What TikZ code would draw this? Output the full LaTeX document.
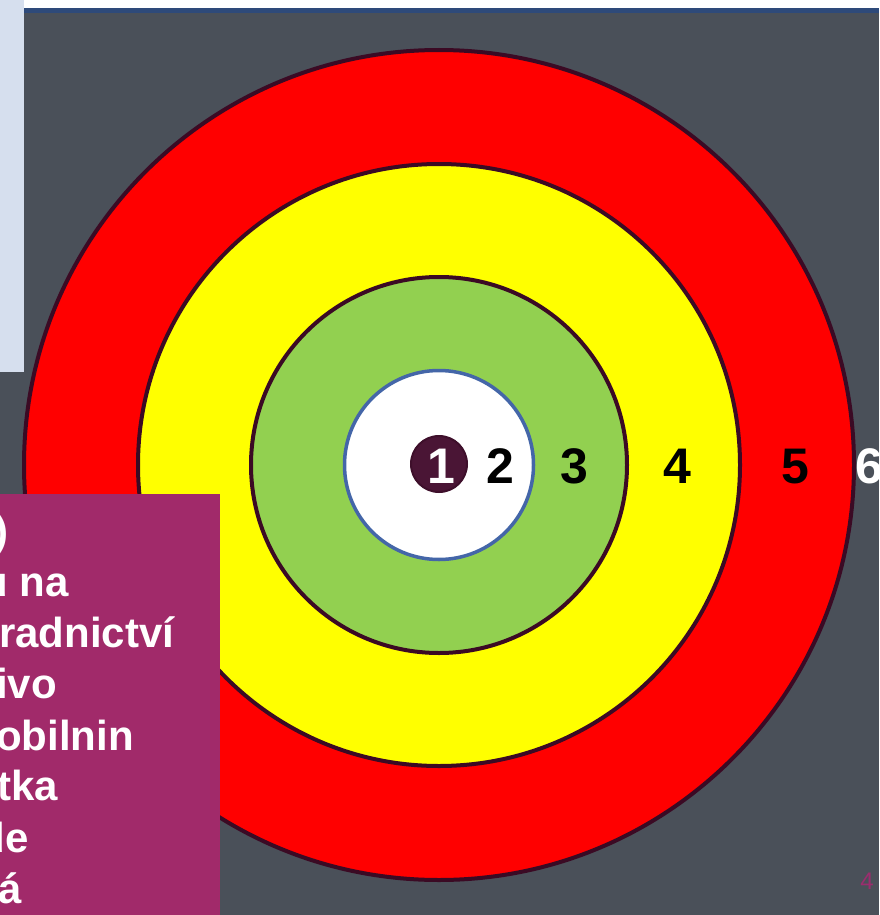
\documentclass[tikz,border=0pt]{standalone}
\usepackage{fontspec}
\setmainfont{Liberation Sans}
\definecolor{bgray}{HTML}{4A5059}
\definecolor{panel}{HTML}{D6DFEE}
\definecolor{topline}{HTML}{2E4A7A}
\definecolor{ringline}{HTML}{3B0A24}
\definecolor{ringred}{HTML}{FF0000}
\definecolor{ringyellow}{HTML}{FFFF00}
\definecolor{ringgreen}{HTML}{92D050}
\definecolor{innerblue}{HTML}{4466A8}
\definecolor{dotplum}{HTML}{4A1535}
\definecolor{dotedge}{HTML}{3E0F2B}
\definecolor{boxmag}{HTML}{A12A6A}
\definecolor{pagemag}{HTML}{9B2D6E}
\begin{document}
\begin{tikzpicture}[x=1pt,y=-1pt,
  ring/.style={draw=ringline,line width=4pt},
  digit/.style={anchor=base,inner sep=0pt,font=\fontsize{50}{58}\selectfont\bfseries},
  boxline/.style={inner sep=0pt,text=white,font=\fontsize{42}{50}\selectfont\bfseries}]
\useasboundingbox (0,0) rectangle (879,915);
% background
\fill[bgray] (0,0) rectangle (879,915);
\fill[white] (24,0) rectangle (879,8);
\fill[topline] (24,8) rectangle (879,13);
\fill[panel] (0,0) rectangle (24,372);
% target rings
\coordinate (c) at (439,465);
\node[circle,ring,fill=ringred,minimum size=830pt,inner sep=0pt] (r5) at (c) {};
\node[circle,ring,fill=ringyellow,minimum size=602pt,inner sep=0pt] (r4) at (c) {};
\node[circle,ring,fill=ringgreen,minimum size=376pt,inner sep=0pt] (r3) at (c) {};
\node[circle,draw=innerblue,line width=3.5pt,fill=white,minimum size=189pt,inner sep=0pt] (r2) at (c) {};
\node[circle,draw=dotedge,line width=2pt,fill=dotplum,minimum size=56pt,inner sep=0pt] (r1) at (439,464) {};
% numbers
\node[digit,text=white] (n1) at (441,483) {1};
\node[digit] (n2) at (500,483) {2};
\node[digit] (n3) at (574,483) {3};
\node[digit] (n4) at (677,483) {4};
\node[digit] (n5) at (795,483) {5};
\node[digit,text=white] (n6) at (869,483) {6};
% magenta text box
\fill[boxmag] (0,494) rectangle (220,915);
\begin{scope}
\clip (0,494) rectangle (220,915);
\node[boxline,anchor=base east] (t1) at (9,545) {)};
\node[boxline,anchor=base east] (t2) at (69,596) {u na};
\node[boxline,anchor=base west] (t3) at (-1,647) {radnictví};
\node[boxline,anchor=base east] (t4) at (57,698) {ivo};
\node[boxline,anchor=base east] (t5) at (134,750) {obilnin};
\node[boxline,anchor=base east] (t6) at (58,800) {tka};
\node[boxline,anchor=base east] (t7) at (29,852) {de};
\node[boxline,anchor=base east] (t8) at (22,903) {á};
\end{scope}
% page number
\node[anchor=base east,inner sep=0pt,text=pagemag,font=\fontsize{24}{28}\selectfont] (pg) at (874,889) {4};
\end{tikzpicture}
\end{document}
